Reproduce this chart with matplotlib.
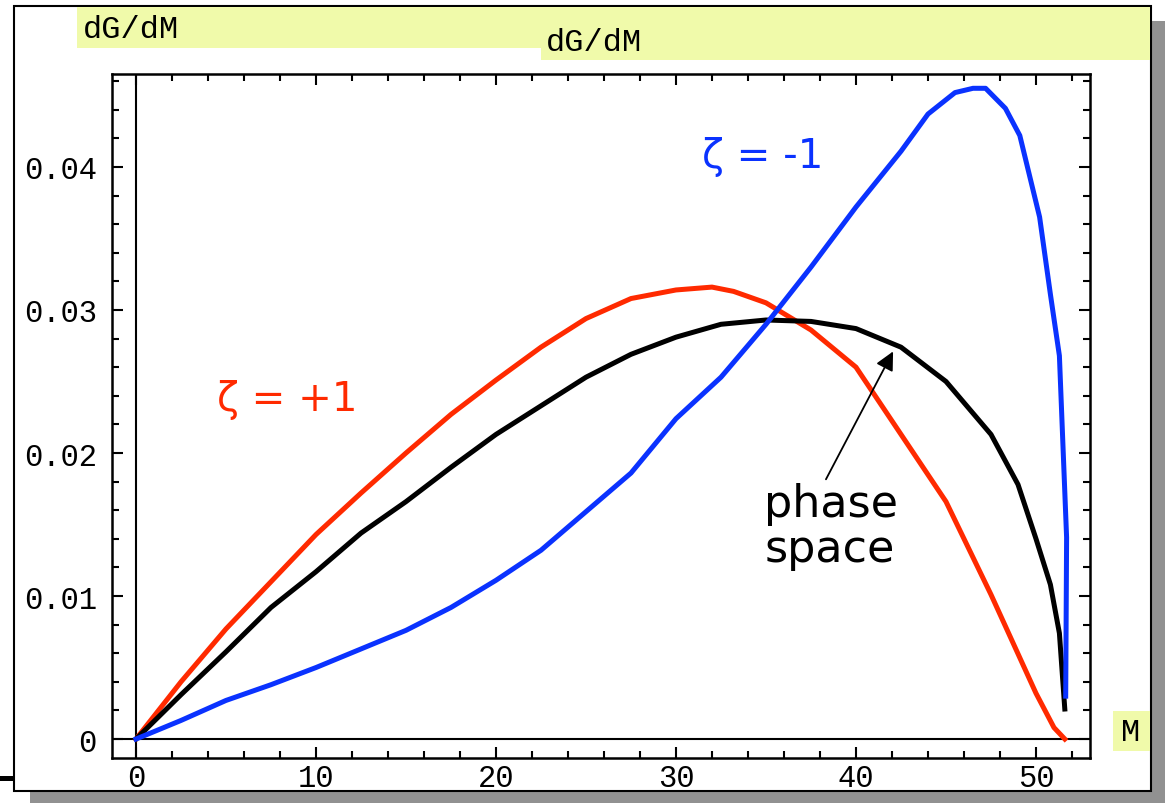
import matplotlib
matplotlib.use('Agg')
import matplotlib.pyplot as plt
from matplotlib.patches import Rectangle
from matplotlib.ticker import MultipleLocator

# invariant-mass spectra dG/dM for the two helicity cases and pure phase space
m_plus = [0, 2.5, 5, 7.5, 10, 12.5, 15, 17.5, 20, 22.5, 25, 27.5, 30, 32,
          33.2, 35, 37.5, 40, 42.5, 45, 47.5, 50, 51, 51.6]
g_plus = [0, 0.0040, 0.0077, 0.0110, 0.0143, 0.0172, 0.0200, 0.0227, 0.0251,
          0.0274, 0.0294, 0.0308, 0.0314, 0.0316, 0.0313, 0.0305, 0.0286,
          0.0260, 0.0213, 0.0166, 0.0101, 0.0032, 0.0008, 0.0]

m_ps = [0, 2.5, 5, 7.5, 10, 12.5, 15, 17.5, 20, 22.5, 25, 27.5, 30, 32.5,
        35, 37.5, 40, 42.5, 45, 47.5, 49, 50, 50.8, 51.3, 51.6]
g_ps = [0, 0.0031, 0.0061, 0.0092, 0.0117, 0.0144, 0.0166, 0.0190, 0.0213,
        0.0233, 0.0253, 0.0269, 0.0281, 0.0290, 0.0293, 0.0292, 0.0287,
        0.0274, 0.0250, 0.0213, 0.0178, 0.0140, 0.0108, 0.0074, 0.0021]

m_minus = [0, 2.5, 5, 7.5, 10, 12.5, 15, 17.5, 20, 22.5, 25, 27.5, 30, 32.5,
           35, 37.5, 40, 42.5, 44, 45.5, 46.5, 47.2, 48.3, 49.1, 50.2, 50.8,
           51.3, 51.7, 51.65]
g_minus = [0, 0.0013, 0.0027, 0.0038, 0.0050, 0.0063, 0.0076, 0.0092, 0.0111,
           0.0132, 0.0159, 0.0186, 0.0224, 0.0253, 0.0290, 0.0330, 0.0372,
           0.0411, 0.0437, 0.0452, 0.0455, 0.0455, 0.0441, 0.0422, 0.0365,
           0.0311, 0.0268, 0.0141, 0.0030]

x_major = [0, 10, 20, 30, 40, 50]
y_major = [0, 0.01, 0.02, 0.03, 0.04]
y_labels = ['0', '0.01', '0.02', '0.03', '0.04']

RED = '#ff2a00'
BLUE = '#0a32ff'
YELLOW = '#f0faaa'
MONO = 'Liberation Mono'
HAND = 'DejaVu Sans'

W, H = 1165, 804
fig = plt.figure(figsize=(W / 100, H / 100), dpi=100)
fig.patch.set_facecolor('white')


def box(x0, y0, x1, y1, **kw):
    # rectangle given in pixels, origin top-left
    r = Rectangle((x0 / W, 1 - y1 / H), (x1 - x0) / W, (y1 - y0) / H,
                  transform=fig.transFigure, **kw)
    fig.patches.append(r)
    return r


def ftext(x, y, s, **kw):
    fig.text(x / W, 1 - y / H, s, **kw)


# drop shadow and white panel
box(30, 22, W, H, facecolor='#919191', edgecolor='none', zorder=-3)
box(14, 7, 1151, 792, facecolor='white', edgecolor='black', lw=1.5, zorder=-2)
box(0, 777, 13, 782, facecolor='black', edgecolor='none', zorder=-1)

# yellow label strips
box(77, 8, 1150, 49, facecolor=YELLOW, edgecolor='none', zorder=-1)
box(541, 8, 1150, 61, facecolor=YELLOW, edgecolor='none', zorder=-1)
box(1113, 712, 1150, 752, facecolor=YELLOW, edgecolor='none', zorder=-1)
ftext(83, 30, 'dG/dM', family=MONO, fontsize=23, va='center', ha='left')
ftext(546, 43, 'dG/dM', family=MONO, fontsize=23, va='center', ha='left')
ftext(1131, 733, 'M', family=MONO, fontsize=23, va='center', ha='center')

ax = fig.add_axes([112 / W, 1 - 758.5 / H, 978 / W, 683.5 / H])
ax.set_facecolor('none')
ax.set_xlim(-1.333, 53.0)
ax.set_ylim(-0.00129, 0.0465)

ax.axhline(0, color='black', lw=1.5, zorder=1)
ax.axvline(0, color='black', lw=1.5, zorder=1)

ax.plot(m_plus, g_plus, color=RED, lw=3.6, zorder=3)
ax.plot(m_ps, g_ps, color='black', lw=3.6, zorder=3)
ax.plot(m_minus, g_minus, color=BLUE, lw=3.6, zorder=4)

ax.set_xticks(x_major)
ax.set_xticklabels([str(v) for v in x_major])
ax.set_yticks(y_major)
ax.set_yticklabels(y_labels)
ax.xaxis.set_minor_locator(MultipleLocator(2))
ax.yaxis.set_minor_locator(MultipleLocator(0.002))
ax.tick_params(which='both', direction='in', top=True, right=True,
               width=1.5, colors='black')
ax.tick_params(which='major', length=8)
ax.tick_params(which='minor', length=5)
ax.tick_params(axis='x', pad=4)
ax.tick_params(axis='y', pad=11)
for lab in ax.get_xticklabels() + ax.get_yticklabels():
    lab.set_family(MONO)
    lab.set_fontsize(22)
for sp in ax.spines.values():
    sp.set_linewidth(1.8)

ax.text(8.4, 0.0238, 'ζ = +1', color=RED, family=HAND, fontsize=29,
        ha='center', va='center')
ax.text(34.8, 0.0408, 'ζ = -1', color=BLUE, family=HAND, fontsize=29,
        ha='center', va='center')
ax.annotate('phase\nspace', xy=(42.06, 0.0271), xytext=(34.9, 0.0149),
            family=HAND, fontsize=32, ha='left', va='center', linespacing=1.05,
            arrowprops=dict(arrowstyle='-|>', color='black', lw=1.3,
                            mutation_scale=28, shrinkA=0, shrinkB=0,
                            relpos=(0.45, 1.0)))

fig.savefig('out.png', dpi=100)
